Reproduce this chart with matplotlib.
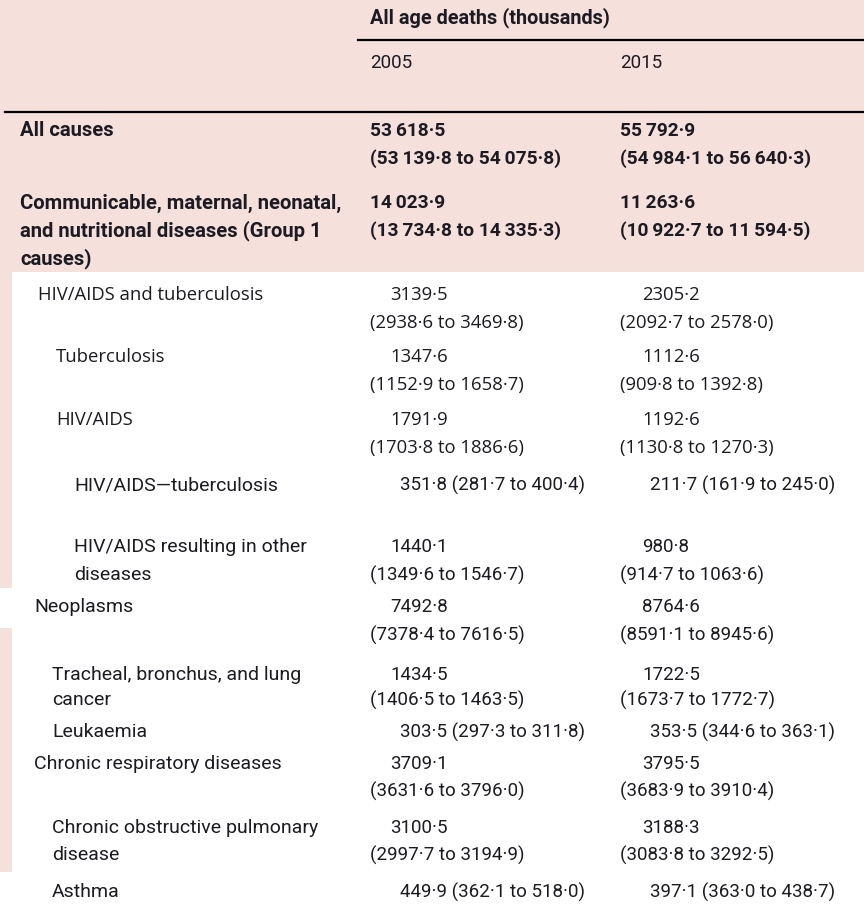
import matplotlib.pyplot as plt
from matplotlib.patches import Rectangle

# causes (label lines)
causes = [
    ["All causes"],
    ["Communicable, maternal, neonatal,", "and nutritional diseases (Group 1", "causes)"],
    ["HIV/AIDS and tuberculosis"],
    ["Tuberculosis"],
    ["HIV/AIDS"],
    ["HIV/AIDS\u2014tuberculosis"],
    ["HIV/AIDS resulting in other", "diseases"],
    ["Neoplasms"],
    ["Tracheal, bronchus, and lung", "cancer"],
    ["Leukaemia"],
    ["Chronic respiratory diseases"],
    ["Chronic obstructive pulmonary", "disease"],
    ["Asthma"],
]

# deaths in thousands, 2005 and 2015, with uncertainty intervals
deaths_2005 = [53618.5, 14023.9, 3139.5, 1347.6, 1791.9, 351.8, 1440.1,
               7492.8, 1434.5, 303.5, 3709.1, 3100.5, 449.9]
low_2005 = [53139.8, 13734.8, 2938.6, 1152.9, 1703.8, 281.7, 1349.6,
            7378.4, 1406.5, 297.3, 3631.6, 2997.7, 362.1]
high_2005 = [54075.8, 14335.3, 3469.8, 1658.7, 1886.6, 400.4, 1546.7,
             7616.5, 1463.5, 311.8, 3796.0, 3194.9, 518.0]
deaths_2015 = [55792.9, 11263.6, 2305.2, 1112.6, 1192.6, 211.7, 980.8,
               8764.6, 1722.5, 353.5, 3795.5, 3188.3, 397.1]
low_2015 = [54984.1, 10922.7, 2092.7, 909.8, 1130.8, 161.9, 914.7,
            8591.1, 1673.7, 344.6, 3683.9, 3083.8, 363.0]
high_2015 = [56640.3, 11594.5, 2578.0, 1392.8, 1270.3, 245.0, 1063.6,
             8945.6, 1772.7, 363.1, 3910.4, 3292.5, 438.7]

# layout (pixels)
row_y = [131, 203, 295, 357, 420, 485, 547, 607, 675, 732, 764, 828, 892]
label_x = [20, 20, 38, 56, 56, 74, 74, 34, 52, 52, 34, 52, 52]
line_gap = [28, 28, 28, 28, 28, 28, 28, 28, 25, 28, 27, 27, 28]
bold_rows = [0, 1]
wide_rows = [2, 3, 4]
oneline_rows = [5, 9, 12]

narrow = "Roboto"
wide = "Open Sans"
ink = "#1c1a22"
pink = "#f6e0dc"


def fmt(v, sep):
    s = f"{v:.1f}"
    ip, dp = s.split(".")
    if sep and len(ip) > 4:
        ip = ip[:-3] + "\u2009" + ip[-3:]
    return ip + "\u00b7" + dp


fig = plt.figure(figsize=(8.64, 9.15), dpi=100)
ax = fig.add_axes([0, 0, 1, 1])
ax.set_xlim(0, 864)
ax.set_ylim(915, 0)
ax.axis("off")

# background panels
ax.add_patch(Rectangle((0, 0), 864, 272, color=pink, lw=0))
ax.add_patch(Rectangle((0, 272), 12, 316, color=pink, lw=0))
ax.add_patch(Rectangle((0, 628), 12, 244, color=pink, lw=0))

ax.text(370, 18, "All age deaths (thousands)", fontsize=14.3, fontweight="bold",
        family=narrow, color=ink, va="center")
ax.plot([358, 864], [40, 40], color="black", lw=1.6)
ax.text(370, 63, "2005", fontsize=13.5, family=narrow, color=ink, va="center")
ax.text(620, 63, "2015", fontsize=13.5, family=narrow, color=ink, va="center")
ax.plot([5, 864], [112, 112], color="black", lw=1.6)

cols = [(370, deaths_2005, low_2005, high_2005), (620, deaths_2015, low_2015, high_2015)]

for i, lines in enumerate(causes):
    y = row_y[i]
    g = line_gap[i]
    bold = i in bold_rows
    fam = wide if i in wide_rows else narrow
    fs = 13.3 if i in wide_rows else 13.5
    lfs = 14.6 if bold else (fs if i in wide_rows else 14)
    w = "bold" if bold else "normal"
    for k, line in enumerate(lines):
        ax.text(label_x[i], y + k * g, line, fontsize=lfs,
                fontweight=w, family=fam, color=ink, va="center")
    vs = 13.8 if bold else fs
    for x0, val, lo, hi in cols:
        v = fmt(val[i], bold)
        ci = "(" + fmt(lo[i], bold) + " to " + fmt(hi[i], bold) + ")"
        if i in oneline_rows:
            ax.text(x0 + 30, y, v + " " + ci, fontsize=vs, family=fam,
                    color=ink, va="center")
        else:
            dx = 0 if bold else (20 if x0 == 370 else 22)
            ax.text(x0 + dx, y, v, fontsize=vs, fontweight=w, family=fam,
                    color=ink, va="center")
            ax.text(x0, y + g, ci, fontsize=vs, fontweight=w, family=fam,
                    color=ink, va="center")

fig.savefig("out.png", dpi=100, facecolor="white")
